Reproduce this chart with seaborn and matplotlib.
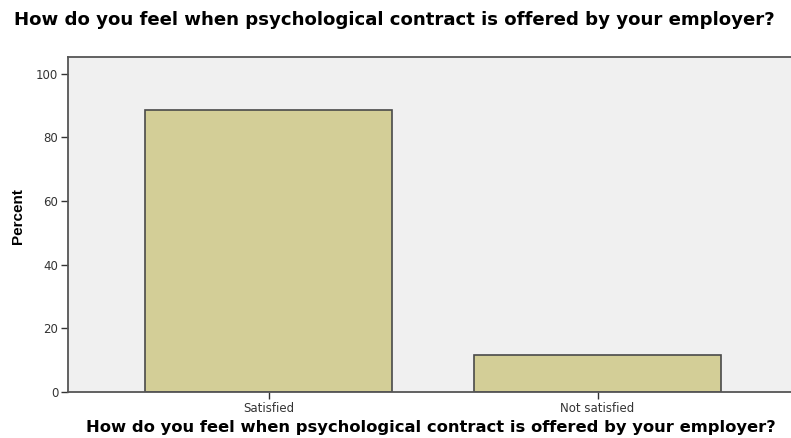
import numpy as np
import pandas as pd
import matplotlib
matplotlib.use("Agg")
import matplotlib.pyplot as plt
import seaborn as sns

categories = ["Satisfied", "Not satisfied"]
percent = [88.5, 11.5]
title = "How do you feel when psychological contract is offered by your employer?"

df = pd.DataFrame({"answer": categories, "percent": percent})

sns.set_style("ticks")
plt.rcParams["font.family"] = ["DejaVu Sans"]

fig = plt.figure(figsize=(7.91, 4.38), dpi=100)
ax = fig.add_axes([0.086, 0.105, 0.914, 0.765])
ax.set_facecolor("#f0f0f0")

sns.barplot(data=df, x="answer", y="percent", color="#d3ce97", saturation=1,
            width=0.75, edgecolor="#4a4a4a", linewidth=1.2, ax=ax)

ax.set_xlim(-0.61, 1.588)
ax.set_ylim(0, 105.3)
ax.set_yticks([0, 20, 40, 60, 80, 100])
ax.tick_params(axis="both", direction="out", length=5, width=1, color="#333333",
               labelsize=8.5, labelcolor="#333333", pad=2)

for s in ["left", "bottom", "top"]:
    ax.spines[s].set_color("#555555")
    ax.spines[s].set_linewidth(1.3)
ax.spines["right"].set_visible(False)

ax.set_ylabel("Percent", fontsize=11, fontweight="bold", family="Liberation Sans", color="black")
ax.yaxis.set_label_coords(-0.06, 0.525)
ax.set_xlabel("")
# x axis title drawn as figure text so it sits exactly where the reference has it
fig.text(0.545, 0.024, title, ha="center", va="center", fontsize=11.8,
         fontweight="bold", family="DejaVu Sans", color="black")
fig.text(0.499, 0.955, title, ha="center", va="center", fontsize=13.1,
         fontweight="bold", color="black")

fig.savefig("out.png", dpi=100)
